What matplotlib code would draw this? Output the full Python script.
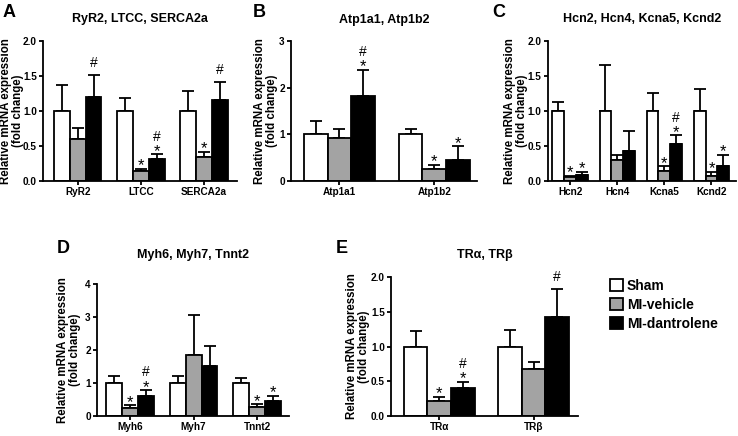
import numpy as np
import matplotlib
matplotlib.use('Agg')
import matplotlib.pyplot as plt
from matplotlib.patches import Patch

plt.rcParams['font.family'] = ['Liberation Sans', 'DejaVu Sans']

# данные панелей
genes_a = ['RyR2', 'LTCC', 'SERCA2a']
sham_a = [1.0, 1.0, 1.0]
sham_err_a = [0.37, 0.18, 0.29]
veh_a = [0.60, 0.14, 0.34]
veh_err_a = [0.15, 0.03, 0.08]
dan_a = [1.20, 0.32, 1.15]
dan_err_a = [0.32, 0.06, 0.27]
veh_sig_a = ['', '*', '*']
dan_sig_a = ['#', '*#', '#']

genes_b = ['Atp1a1', 'Atp1b2']
sham_b = [1.0, 1.0]
sham_err_b = [0.29, 0.11]
veh_b = [0.93, 0.25]
veh_err_b = [0.18, 0.09]
dan_b = [1.82, 0.45]
dan_err_b = [0.56, 0.29]
veh_sig_b = ['', '*']
dan_sig_b = ['*#', '*']

genes_c = ['Hcn2', 'Hcn4', 'Kcna5', 'Kcnd2']
sham_c = [1.0, 1.0, 1.0, 1.0]
sham_err_c = [0.13, 0.65, 0.26, 0.31]
veh_c = [0.05, 0.30, 0.14, 0.07]
veh_err_c = [0.02, 0.07, 0.07, 0.06]
dan_c = [0.09, 0.43, 0.53, 0.22]
dan_err_c = [0.04, 0.28, 0.12, 0.15]
veh_sig_c = ['*', '', '*', '*']
dan_sig_c = ['*', '', '*#', '*']

genes_d = ['Myh6', 'Myh7', 'Tnnt2']
sham_d = [1.0, 1.0, 1.0]
sham_err_d = [0.20, 0.22, 0.15]
veh_d = [0.25, 1.85, 0.28]
veh_err_d = [0.07, 1.20, 0.07]
dan_d = [0.60, 1.52, 0.45]
dan_err_d = [0.18, 0.60, 0.15]
veh_sig_d = ['*', '', '*']
dan_sig_d = ['*#', '', '*']

genes_e = ['TR\u03b1', 'TR\u03b2']
sham_e = [1.0, 1.0]
sham_err_e = [0.23, 0.24]
veh_e = [0.21, 0.68]
veh_err_e = [0.06, 0.10]
dan_e = [0.40, 1.42]
dan_err_e = [0.09, 0.41]
veh_sig_e = ['*', '']
dan_sig_e = ['*#', '#']

groups = ['Sham', 'MI-vehicle', 'MI-dantrolene']
colors = ['white', '#a3a3a3', 'black']

W, H = 738, 436
fig = plt.figure(figsize=(W / 100, H / 100), dpi=100)


def axes_px(l, t, r, b):
    ax = fig.add_axes([l / W, 1 - b / H, (r - l) / W, (b - t) / H])
    ax._px = (l, r)
    return ax


def mark(ax, x, y, sig):
    # звёздочка над планкой, решётка выше
    if '*' in sig:
        ax.annotate('*', (x, y), xytext=(0, -1), textcoords='offset points',
                    ha='center', va='baseline', fontsize=12)
    if sig == '#':
        ax.annotate('#', (x, y), xytext=(0, 5.5), textcoords='offset points',
                    ha='center', va='baseline', fontsize=10)
    elif sig == '*#':
        ax.annotate('#', (x, y), xytext=(0, 10), textcoords='offset points',
                    ha='center', va='baseline', fontsize=10)


def panel(ax, genes, sham, sham_err, veh, veh_err, dan, dan_err, veh_sig, dan_sig,
          yticks, fmt, xlim, title, title_pad, label_px):
    x = np.arange(len(genes))
    w = 0.25
    series = [(sham, sham_err, None), (veh, veh_err, veh_sig), (dan, dan_err, dan_sig)]
    for i, (vals, errs, sigs) in enumerate(series):
        xs = x + (i - 1) * w
        ax.bar(xs, vals, w, color=colors[i], edgecolor='black', linewidth=1.3, zorder=2)
        ax.errorbar(xs, vals, yerr=[np.zeros(len(vals)), errs], fmt='none', ecolor='black',
                    elinewidth=1.3, capsize=4, capthick=1.3, zorder=1)
        if sigs:
            for xi, v, e, s in zip(xs, vals, errs, sigs):
                mark(ax, xi, v + e, s)
    ax.set_xlim(xlim)
    ax.set_ylim(0, yticks[-1])
    ax.set_xticks(x)
    ax.set_xticklabels(genes, fontsize=7.2, fontweight='bold')
    ax.set_yticks(yticks)
    ax.set_yticklabels([fmt.format(t) for t in yticks], fontsize=7.2, fontweight='bold')
    ax.spines['top'].set_visible(False)
    ax.spines['right'].set_visible(False)
    for s in ['left', 'bottom']:
        ax.spines[s].set_linewidth(1.3)
    ax.tick_params(axis='both', length=3, width=1.3, pad=1.5)
    ax.set_ylabel('Relative mRNA expression\n(fold change)', fontsize=8.3,
                  fontweight='bold', linespacing=0.95)
    l, r = ax._px
    ax.yaxis.set_label_coords((label_px - l) / (r - l), 0.5)
    ax.set_title(title, fontsize=9, fontweight='bold', pad=title_pad)


ax_a = axes_px(43, 41, 237, 181)
panel(ax_a, genes_a, sham_a, sham_err_a, veh_a, veh_err_a, dan_a, dan_err_a,
      veh_sig_a, dan_sig_a, [0, 0.5, 1.0, 1.5, 2.0], '{:.1f}', (-0.55, 2.52),
      'RyR2, LTCC, SERCA2a', 13.5, 24)

ax_b = axes_px(291, 41, 477, 181)
panel(ax_b, genes_b, sham_b, sham_err_b, veh_b, veh_err_b, dan_b, dan_err_b,
      veh_sig_b, dan_sig_b, [0, 1, 2, 3], '{:.0f}', (-0.51, 1.45),
      'Atp1a1, Atp1b2', 13, 278)

ax_c = axes_px(548, 41, 736, 181)
panel(ax_c, genes_c, sham_c, sham_err_c, veh_c, veh_err_c, dan_c, dan_err_c,
      veh_sig_c, dan_sig_c, [0, 0.5, 1.0, 1.5, 2.0], '{:.1f}', (-0.47, 3.52),
      'Hcn2, Hcn4, Kcna5, Kcnd2', 13.5, 528)

ax_d = axes_px(97, 284, 289, 416)
panel(ax_d, genes_d, sham_d, sham_err_d, veh_d, veh_err_d, dan_d, dan_err_d,
      veh_sig_d, dan_sig_d, [0, 1, 2, 3, 4], '{:.0f}', (-0.52, 2.5),
      'Myh6, Myh7, Tnnt2', 18.5, 81)

ax_e = axes_px(391, 277, 578, 416)
panel(ax_e, genes_e, sham_e, sham_err_e, veh_e, veh_err_e, dan_e, dan_err_e,
      veh_sig_e, dan_sig_e, [0, 0.5, 1.0, 1.5, 2.0], '{:.1f}', (-0.51, 1.47),
      'TR\u03b1, TR\u03b2', 13.5, 370)

# буквы панелей
for letter, px, py in [('A', 3, 17), ('B', 253, 17), ('C', 492, 17),
                       ('D', 57, 253), ('E', 336, 253)]:
    fig.text(px / W, 1 - py / H, letter, fontsize=13, fontweight='bold', va='baseline')

handles = [Patch(facecolor=c, edgecolor='black', linewidth=1.3) for c in colors]
fig.legend(handles, groups, loc='upper left', bbox_to_anchor=(610 / W, 1 - 279 / H),
           frameon=False, prop={'weight': 'bold', 'size': 10},
           handlelength=0.9, handleheight=0.9, handletextpad=0.3,
           labelspacing=0.35, borderpad=0, borderaxespad=0)

fig.savefig('out.png', dpi=100)
